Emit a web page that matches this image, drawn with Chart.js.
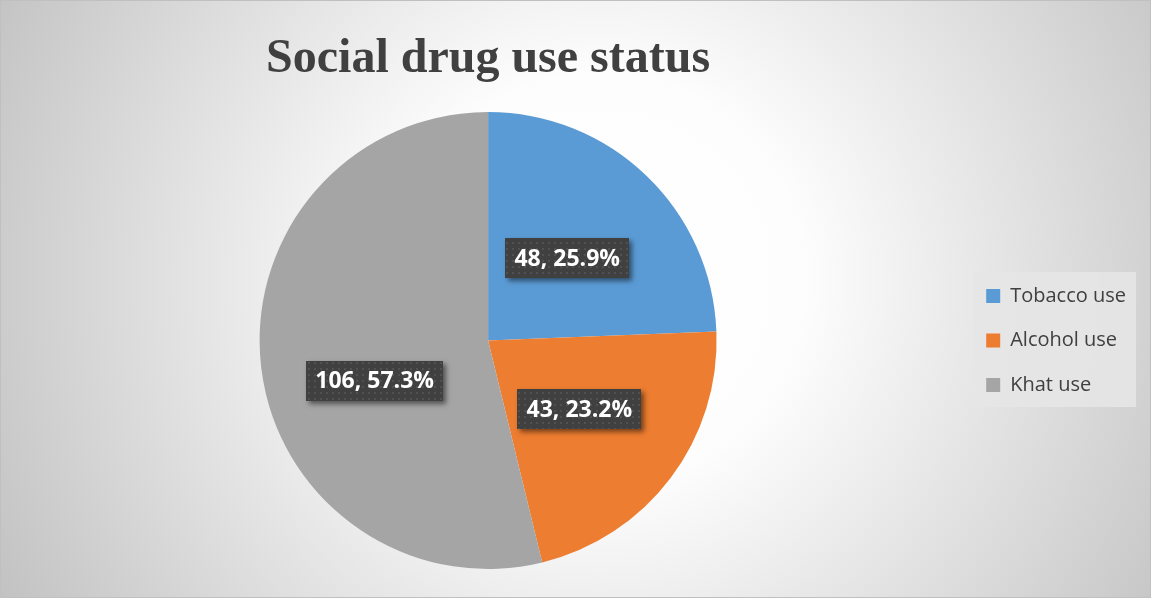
<!DOCTYPE html>
<html>
<head>
<meta charset="utf-8">
<title>Social drug use status</title>
<script src="https://cdn.jsdelivr.net/npm/chart.js@4.4.1/dist/chart.umd.min.js"></script>
<style>
  html, body { margin: 0; padding: 0; background: #fff; }
  #wrap { width: 1151px; height: 598px; }
</style>
</head>
<body>
<div id="wrap"><canvas id="chart-drug" width="1151" height="598"></canvas></div>
<script>
// ── Data ──────────────────────────────────────────────────────
const categories    = ["Tobacco use", "Alcohol use", "Khat use"];
const counts        = [48, 43, 106];
const percentLabels = ["25.9%", "23.2%", "57.3%"];

const sliceColors = ["#5B9BD5", "#ED7D31", "#A5A5A5"];

// ── Small dotted fill used behind the value labels ────────────
function makeDotPattern(ctx) {
  const c = document.createElement("canvas");
  c.width = 6; c.height = 6;
  const p = c.getContext("2d");
  p.fillStyle = "#404040";
  p.fillRect(0, 0, 6, 6);
  p.fillStyle = "#515151";
  p.fillRect(2, 2, 2, 2);
  return ctx.createPattern(c, "repeat");
}

// ── Background: radial grey gradient + legend panel ───────────
const backgroundPlugin = {
  id: "bgGradient",
  beforeDraw(chart) {
    const { ctx, width, height } = chart;
    ctx.save();
    const g = ctx.createRadialGradient(600, 280, 0, 600, 280, 680);
    g.addColorStop(0, "#ffffff");
    g.addColorStop(0.3, "#fdfdfd");
    g.addColorStop(1, "#c2c2c2");
    ctx.fillStyle = g;
    ctx.fillRect(0, 0, width, height);

    const lg = chart.legend;
    if (lg && lg.legendHitBoxes && lg.legendHitBoxes.length) {
      const hb     = lg.legendHitBoxes;
      const left   = Math.min(...hb.map((h) => h.left)) - 13;
      const top    = Math.min(...hb.map((h) => h.top)) - 14;
      const right  = Math.max(...hb.map((h) => h.left + h.width)) + 10;
      const bottom = Math.max(...hb.map((h) => h.top + h.height)) + 12;
      ctx.fillStyle = "rgba(229,229,229,0.9)";
      ctx.fillRect(left, top, right - left, bottom - top);
    }

    ctx.strokeStyle = "#c0c0c0";
    ctx.lineWidth = 1;
    ctx.strokeRect(0.5, 0.5, width - 1, height - 1);
    ctx.restore();
  },
};

// ── Value labels ("48, 25.9%") in dark boxes ──────────────────
const valueLabelPlugin = {
  id: "valueLabels",
  afterDatasetsDraw(chart, args, opts) {
    const { ctx } = chart;
    const meta    = chart.getDatasetMeta(0);
    const pattern = makeDotPattern(ctx);
    ctx.save();
    ctx.font = "bold 23px 'Open Sans'";
    ctx.textAlign = "center";
    ctx.textBaseline = "middle";
    meta.data.forEach((arc, i) => {
      const p     = arc.tooltipPosition();
      const shift = opts.shift[i] || 0;
      const x = p.x, y = p.y + shift;
      const text = counts[i] + ", " + percentLabels[i];
      const w = Math.round(ctx.measureText(text).width + 2 * opts.padX);
      const h = opts.boxHeight;
      const bx = Math.round(x - w / 2), by = Math.round(y - h / 2);

      ctx.save();
      ctx.shadowColor   = "rgba(0,0,0,0.5)";
      ctx.shadowBlur    = 5;
      ctx.shadowOffsetX = 3;
      ctx.shadowOffsetY = 3;
      ctx.fillStyle = "#404040";
      ctx.fillRect(bx, by, w, h);
      ctx.restore();

      ctx.fillStyle = pattern;
      ctx.fillRect(bx, by, w, h);
      ctx.fillStyle = "#ffffff";
      ctx.fillText(text, x, y + 1);
    });
    ctx.restore();
  },
};

// ── Chart ─────────────────────────────────────────────────────
new Chart(document.getElementById("chart-drug"), {
  type: "pie",
  data: {
    labels: categories,
    datasets: [{
      data: counts,
      backgroundColor: sliceColors,
      borderWidth: 0,
    }],
  },
  plugins: [backgroundPlugin, valueLabelPlugin],
  options: {
    responsive: false,
    devicePixelRatio: 1,
    animation: false,
    events: [],
    layout: { padding: { left: 14.5, right: 15, top: 0, bottom: 29 } },
    plugins: {
      title: {
        display: true,
        text: "Social drug use status",
        fullSize: false,
        color: "#404040",
        font: { family: "'Liberation Serif', 'Times New Roman', serif", size: 48, weight: "bold" },
        padding: { top: 31, bottom: 23.4 },
      },
      legend: {
        display: true,
        position: "right",
        fullSize: false,
        align: "center",
        labels: {
          color: "#404040",
          font: { family: "'Open Sans'", size: 20 },
          boxWidth: 14,
          boxHeight: 14,
          padding: 24.5,
        },
      },
      tooltip: { enabled: false },
      valueLabels: { shift: [0, 0, 26.5], padX: 9, boxHeight: 40 },
    },
  },
});
</script>
</body>
</html>
